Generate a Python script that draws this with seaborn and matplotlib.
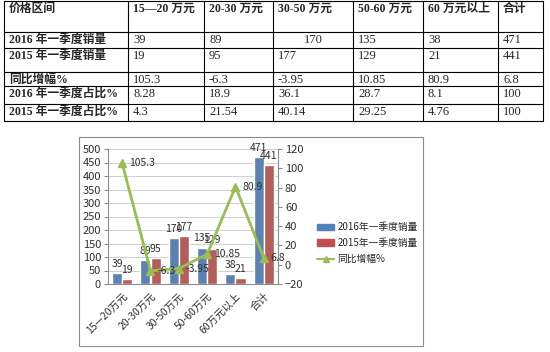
import matplotlib
matplotlib.use('Agg')
import matplotlib.pyplot as plt
import numpy as np
import pandas as pd
import seaborn as sns
from matplotlib.patches import Patch
from matplotlib.lines import Line2D

# 数据
categories = ['15—20万元', '20-30万元', '30-50万元', '50-60万元', '60万元以上', '合计']
table_head = ['价格区间', '15—20 万元', '20-30 万元', '30-50 万元', '50-60 万元', '60 万元以上', '合计']
row_names = ['2016 年一季度销量', '2015 年一季度销量', '同比增幅%', '2016 年一季度占比%', '2015 年一季度占比%']
sales_2016 = [39, 89, 170, 135, 38, 471]
sales_2015 = [19, 95, 177, 129, 21, 441]
growth = [105.3, -6.3, -3.95, 10.85, 80.9, 6.8]
share_2016 = [8.28, 18.9, 36.1, 28.7, 8.1, 100]
share_2015 = [4.3, 21.54, 40.14, 29.25, 4.76, 100]
series_names = ['2016年一季度销量', '2015年一季度销量', '同比增幅%']

sns.set_style('white')
plt.rcParams['font.family'] = ['Noto Sans CJK SC', 'DejaVu Sans']
serif = ['Liberation Serif', 'Noto Sans CJK SC']
txt = '#303030'
edge = '#8c8c8c'

fig = plt.figure(figsize=(5.5, 3.52), dpi=100)

# 上面的表格 (像素坐标)
tab = fig.add_axes([0, 0, 1, 1])
tab.set_xlim(0, 550)
tab.set_ylim(352, 0)
tab.axis('off')
col_x = [4, 128, 204, 273, 353, 423, 498, 543]
row_y = [1, 32, 48, 72, 86, 104, 121]
for x in col_x:
    tab.plot([x, x], [row_y[0], row_y[-1]], color='black', lw=0.8)
for y in row_y:
    tab.plot([col_x[0], col_x[-1]], [y, y], color='black', lw=0.8)

rows = [sales_2016, sales_2015, growth, share_2016, share_2015]
for j, h in enumerate(table_head):
    tab.text(col_x[j] + 5, row_y[0] + 2, h, family=serif, fontsize=8.5,
             fontweight='bold', va='top', ha='left')
for i, name in enumerate(row_names):
    tab.text(col_x[0] + 5, row_y[i + 1] + 1.5, name, family=serif, fontsize=8.5,
             fontweight='bold', va='top', ha='left')
    for j, v in enumerate(rows[i]):
        if i == 0 and j == 2:
            tab.text((col_x[j + 1] + col_x[j + 2]) / 2, row_y[i + 1] + 2, str(v),
                     family=serif, fontsize=9, va='top', ha='center')
        else:
            tab.text(col_x[j + 1] + 5, row_y[i + 1] + 2, str(v), family=serif,
                     fontsize=9, va='top', ha='left')

# 图表边框
tab.add_patch(plt.Rectangle((79, 137), 344, 209, fill=False, ec=edge, lw=0.8))

# 柱状图
df = pd.DataFrame({
    'cat': categories * 2,
    'sales': sales_2016 + sales_2015,
    'year': [series_names[0]] * 6 + [series_names[1]] * 6,
})
ax = fig.add_axes([108 / 550, 68 / 352, 170 / 550, 135 / 352])
sns.barplot(data=df, x='cat', y='sales', hue='year', palette=['#4F81BD', '#C0504D'],
            width=0.72, ax=ax, legend=False)
ax.set_ylim(0, 500)
ax.set_xlim(-0.5, 5.5)
ax.set_yticks(np.arange(0, 501, 50))
ax.yaxis.grid(True, color='#c8c8c8', lw=0.6)
ax.set_axisbelow(True)
ax.set_xlabel('')
ax.set_ylabel('')
for c in ax.containers:
    ax.bar_label(c, padding=3, fontsize=7.5, color=txt)
ax.set_xticks(range(6))
ax.set_xticklabels(categories, rotation=45, ha='right', rotation_mode='anchor',
                   fontsize=7.5, color=txt)
ax.set_xticks(np.arange(-0.5, 6, 1), minor=True)
ax.tick_params(axis='x', which='major', length=0, pad=5)
ax.tick_params(axis='x', which='minor', length=4, color=edge, direction='out')
ax.tick_params(axis='y', length=3, color=edge, labelsize=8, labelcolor=txt, pad=2)
for s in ['top', 'right']:
    ax.spines[s].set_visible(False)
for s in ['left', 'bottom']:
    ax.spines[s].set_color(edge)
    ax.spines[s].set_linewidth(0.8)

# 同比增幅 折线 (右轴)
ax2 = ax.twinx()
xs = np.arange(len(categories))
ax2.plot(xs, growth, color='#9BBB59', lw=2, marker='^', ms=6, label=series_names[2])
for x, g in zip(xs, growth):
    ax2.annotate(str(g), (x, g), xytext=(5, 0), textcoords='offset points',
                 fontsize=7.5, va='center', ha='left', color=txt)
ax2.set_ylim(-20, 120)
ax2.set_yticks(np.arange(-20, 121, 20))
ax2.tick_params(axis='y', length=3, color=edge, labelsize=8, labelcolor=txt, pad=2)
for s in ['top', 'left', 'bottom']:
    ax2.spines[s].set_visible(False)
ax2.spines['right'].set_color(edge)
ax2.spines['right'].set_linewidth(0.8)

# 图例
handles = [Patch(color='#4F81BD'), Patch(color='#C0504D'),
           Line2D([], [], color='#9BBB59', lw=1.5, marker='^', ms=4)]
fig.legend(handles, series_names, loc='center left', bbox_to_anchor=(313 / 550, 1 - 243 / 352),
           frameon=False, fontsize=7, handlelength=1.8, handleheight=0.6,
           labelspacing=0.6, handletextpad=0.3, borderaxespad=0)

fig.savefig('out.png', dpi=100)
